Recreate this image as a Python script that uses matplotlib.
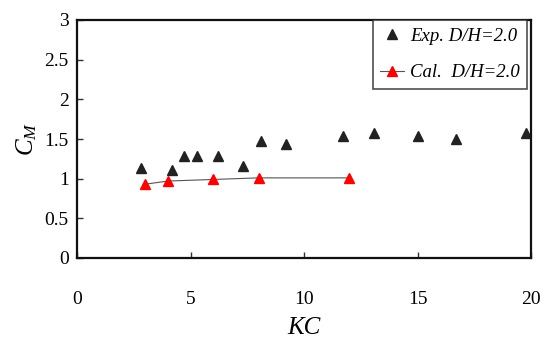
import matplotlib
matplotlib.use("Agg")
import matplotlib.pyplot as plt

plt.rcParams["font.family"] = ["Liberation Serif", "DejaVu Serif"]
plt.rcParams["mathtext.fontset"] = "custom"
plt.rcParams["mathtext.rm"] = "Liberation Serif"
plt.rcParams["mathtext.it"] = "Liberation Serif:italic"

# Experimental inertia coefficients
exp_kc = [2.8, 4.2, 4.7, 5.3, 6.2, 7.3, 8.1, 9.2, 11.7, 13.1, 15.0, 16.7, 19.8]
exp_cm = [1.13, 1.11, 1.29, 1.29, 1.29, 1.16, 1.47, 1.44, 1.54, 1.57, 1.54, 1.50, 1.57]

# Calculated inertia coefficients
cal_kc = [3, 4, 6, 8, 12]
cal_cm = [0.93, 0.97, 0.99, 1.01, 1.01]

x_ticks = [0, 5, 10, 15, 20]
y_ticks = [0, 0.5, 1, 1.5, 2, 2.5, 3]
y_tick_labels = ["0", "0.5", "1", "1.5", "2", "2.5", "3"]

fig = plt.figure(figsize=(5.51, 3.45), dpi=100)
ax = fig.add_axes([77 / 551, 1 - 258 / 345, (531 - 77) / 551, (258 - 20) / 345])

ax.plot(exp_kc, exp_cm, linestyle="none", marker="^", markersize=7,
        color="#222222", label="Exp. D/H=2.0")
ax.plot(cal_kc, cal_cm, linestyle="-", linewidth=0.8, color="#555555",
        marker="^", markersize=7, markerfacecolor="#ff0000",
        markeredgecolor="#ff0000", label="Cal.  D/H=2.0")

ax.set_xlim(0, 20)
ax.set_ylim(0, 3)
ax.set_xticks(x_ticks)
ax.set_yticks(y_ticks)
ax.set_yticklabels(y_tick_labels)
ax.tick_params(direction="in", length=4, width=1, labelsize=14, color="#333333")
ax.tick_params(axis="x", pad=24)
ax.tick_params(axis="y", pad=6)
for s in ax.spines.values():
    s.set_linewidth(1.6)
    s.set_color("#111111")

ax.set_xlabel("KC", fontsize=18, style="italic", labelpad=6)
ax.set_ylabel(r"$C_M$", fontsize=18, labelpad=4)

leg = ax.legend(loc="upper right", bbox_to_anchor=(0.992, 1.0),
                prop={"style": "italic", "size": 13.5},
                frameon=True, fancybox=False, edgecolor="#222222",
                borderaxespad=0.0, handlelength=1.3, handletextpad=0.3,
                borderpad=0.4, labelspacing=1.05)
leg.get_frame().set_linewidth(1.2)

fig.savefig("out.png", dpi=100)
